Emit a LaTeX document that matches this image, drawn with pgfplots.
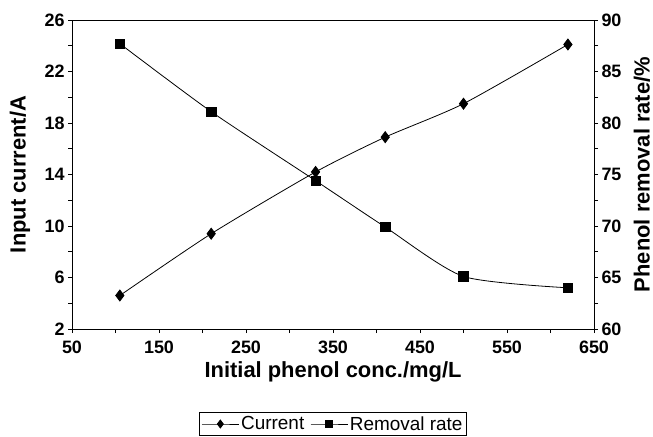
\documentclass[border=0pt]{standalone}
\usepackage{pgfplots}
\pgfplotsset{compat=1.18}
\usepackage{fontspec}
\setmainfont{Liberation Sans}
\begin{document}
\begin{tikzpicture}
\pgfplotsset{
  common/.style={
    scale only axis, width=522bp, height=309bp,
    xmin=50, xmax=650,
    /pgf/number format/assume math mode=true,
    tick align=outside,
    major tick length=4bp, minor tick length=4bp,
    every tick/.style={black, line width=0.8bp},
    every minor tick/.style={black, line width=0.8bp},
    axis line style={black, line width=0.8bp},
    ticklabel style={font=\bfseries\fontsize{18}{18}\selectfont},
    label style={font=\bfseries\fontsize{22}{22}\selectfont},
  }
}
\begin{axis}[common,
  ymin=2, ymax=26,
  xtick={50,150,...,650}, minor xtick={100,200,...,600},
  ytick={2,6,...,26}, minor ytick={4,8,...,24},
  xtick pos=left, ytick pos=left,
  xlabel={Initial phenol conc./mg/L},
  ylabel={Input current/A},
  xlabel style={at={(axis description cs:0.5,-0.139)}, anchor=center},
  ylabel style={at={(axis description cs:-0.0996,0.5)}, anchor=center},
  xticklabel style={yshift=-4bp},
]
\coordinate (O) at (rel axis cs:0,0);
\addplot[black, line width=0.8bp, smooth, tension=0.4, mark=diamond*, mark size=5.5bp]
  coordinates {(105,4.6) (210,9.4) (330,14.2) (410,16.9) (500,19.5) (620,24.1)};
\end{axis}
\begin{axis}[common,
  ymin=60, ymax=90,
  axis x line=none,
  axis y line*=right,
  ytick={60,65,...,90}, minor ytick={62.5,67.5,...,87.5},
  ylabel={Phenol removal rate/\%},
  ylabel style={at={(axis description cs:1.092,0.5)}, anchor=center, rotate=0},
  legend style={at={(axis description cs:0.5,-0.2686)}, anchor=north,
    legend columns=2, draw=black, line width=0.8bp,
    font=\fontsize{19}{19}\selectfont, inner sep=2bp,
    /tikz/every even column/.append style={column sep=4bp}},
  legend cell align=left,
  legend image code/.code={\draw[mark repeat=2, mark phase=2, #1] plot coordinates {(0cm,0cm) (0.65cm,0cm) (1.3cm,0cm)};},
]
\addlegendimage{black, line width=0.8bp, mark=diamond*, mark size=4bp}
\addlegendentry{Current}
\addplot[black, line width=0.8bp, smooth, tension=0.4, mark=square*, mark size=4.7bp, forget plot]
  coordinates {(105,87.7) (210,81.1) (330,74.4) (410,69.9) (500,65.1) (620,64.0)};
\addlegendimage{black, line width=0.8bp, mark=square*, mark size=3.3bp}
\addlegendentry{Removal rate}
\end{axis}
\pgfresetboundingbox
\path ([shift={(-72bp,-108bp)}]O) rectangle ++(653bp,437bp);
\end{tikzpicture}
\end{document}
